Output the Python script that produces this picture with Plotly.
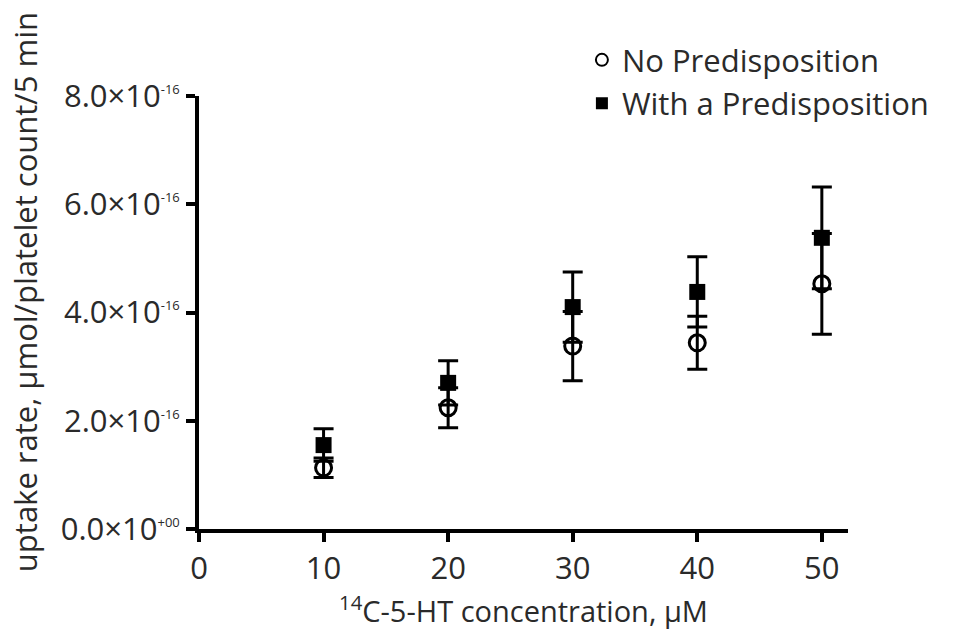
import plotly.graph_objects as go

# 14C-5-HT concentration (uM)
concentration = [10, 20, 30, 40, 50]

# Uptake rate, in units of 1e-16 umol / platelet count / 5 min
no_predisposition_mean = [1.13, 2.24, 3.38, 3.44, 4.53]
no_predisposition_err = [0.18, 0.37, 0.64, 0.49, 0.93]
with_predisposition_mean = [1.55, 2.70, 4.10, 4.38, 5.38]
with_predisposition_err = [0.30, 0.41, 0.65, 0.65, 0.94]

SCALE = 1e-16

x_tick_vals = [0, 10, 20, 30, 40, 50]
y_tick_vals = [0, 2, 4, 6, 8]
y_tick_text = ["0.0×10", "2.0×10", "4.0×10", "6.0×10", "8.0×10"]
y_tick_exp = ["+00", "-16", "-16", "-16", "-16"]

FONT = "Open Sans"
TEXT_COLOR = "#2a2a2a"
fig = go.Figure()

fig.add_trace(go.Scatter(
    x=concentration,
    y=[v * SCALE for v in no_predisposition_mean],
    mode="markers",
    name="No Predisposition",
    marker=dict(symbol="circle-open", size=16, color="black", line=dict(width=3, color="black")),
    error_y=dict(type="data", array=[v * SCALE for v in no_predisposition_err],
                 symmetric=True, color="black", thickness=3, width=10),
))

fig.add_trace(go.Scatter(
    x=concentration,
    y=[v * SCALE for v in with_predisposition_mean],
    mode="markers",
    name="With a Predisposition",
    marker=dict(symbol="square", size=16, color="black"),
    error_y=dict(type="data", array=[v * SCALE for v in with_predisposition_err],
                 symmetric=True, color="black", thickness=3, width=10),
))

fig.update_layout(
    width=957, height=637,
    margin=dict(l=199, r=109, t=96, b=108),
    paper_bgcolor="white", plot_bgcolor="white",
    font=dict(family=FONT, size=31, color=TEXT_COLOR),
    showlegend=True,
    legend=dict(x=0.59, y=1.145, xanchor="left", yanchor="top",
                font=dict(size=31, family=FONT, color=TEXT_COLOR),
                bgcolor="rgba(0,0,0,0)", itemsizing="constant", tracegroupgap=0),
    annotations=[dict(
        text="uptake rate, μmol/platelet count/5 min",
        xref="paper", yref="paper", x=0, y=0.547,
        xanchor="center", yanchor="middle", xshift=-174,
        textangle=-90, showarrow=False,
        font=dict(size=31, family=FONT, color=TEXT_COLOR),
    )],
)

fig.update_xaxes(
    range=[0, 52.1], tickvals=x_tick_vals,
    showline=True, linewidth=4, linecolor="black",
    ticks="outside", ticklen=9, tickwidth=4, tickcolor="black",
    showgrid=False, zeroline=False,
    tickfont=dict(size=31, family=FONT, color=TEXT_COLOR),
    title=dict(text="<sup>14</sup>C-5-HT concentration, μM",
               font=dict(size=29, family=FONT, color=TEXT_COLOR), standoff=4),
)

fig.update_yaxes(
    range=[0, 8 * SCALE],
    tickvals=[v * SCALE for v in y_tick_vals],
    ticktext=[f"{t}<sup><span style='font-size:13px'>{e}</span></sup>" for t, e in zip(y_tick_text, y_tick_exp)],
    showline=True, linewidth=4, linecolor="black",
    ticks="outside", ticklen=9, tickwidth=4, tickcolor="black",
    showgrid=False, zeroline=False,
    tickfont=dict(size=31, family=FONT, color=TEXT_COLOR),
)

fig.write_html("out.html")
